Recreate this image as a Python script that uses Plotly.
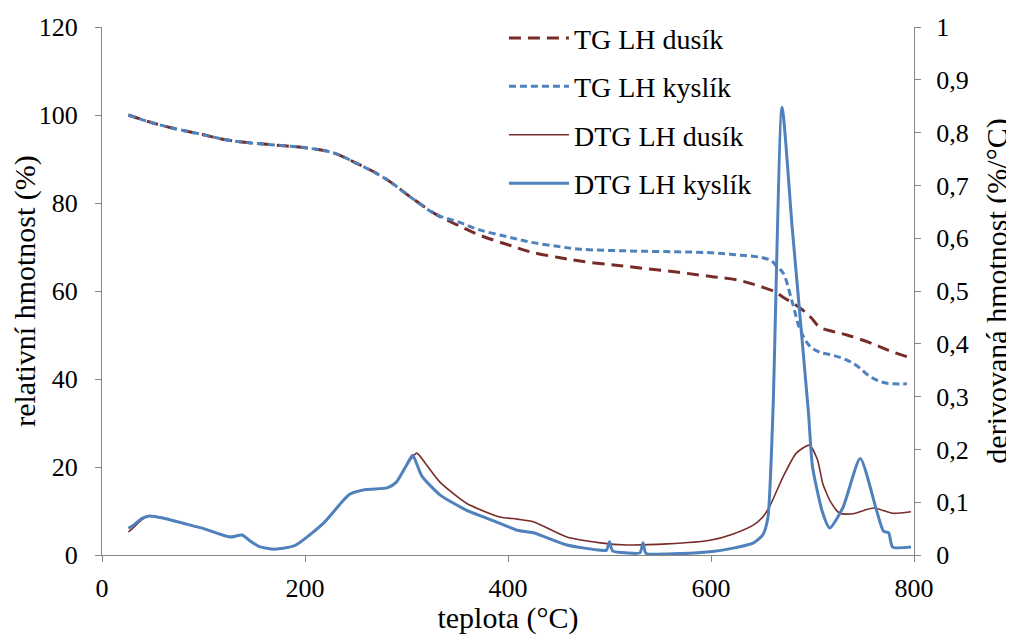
import plotly.graph_objects as go

# TG curves (left axis, %)
tg_dusik_t = [26, 47, 70, 100, 119, 140, 159, 180, 202, 228, 251, 270, 284, 306, 330, 350,
              372, 400, 422, 450, 471, 500, 520, 566, 600, 626, 645, 663, 671, 688, 698,
              707, 720, 734, 757, 775, 797]
tg_dusik = [100, 98.4, 97.0, 95.5, 94.5, 93.8, 93.4, 93.0, 92.5, 91.4, 89.0, 86.8, 84.8,
            81.0, 77.3, 75.0, 72.7, 70.5, 68.9, 67.6, 66.8, 66.0, 65.5, 64.3, 63.3, 62.5,
            61.3, 59.8, 58.6, 56.1, 54.1, 51.8, 50.8, 50.0, 48.2, 46.5, 44.8]

tg_kyslik_t = [26, 47, 70, 100, 119, 140, 159, 180, 202, 228, 251, 270, 284, 306, 330, 350,
               372, 400, 422, 450, 471, 520, 566, 600, 626, 650, 660, 665, 671, 680, 688,
               698, 707, 720, 734, 745, 757, 770, 780, 793]
tg_kyslik = [100, 98.4, 97.0, 95.5, 94.5, 93.8, 93.4, 93.0, 92.5, 91.4, 89.0, 86.8, 84.8,
             81.0, 77.3, 75.8, 73.9, 72.3, 71.1, 70.1, 69.5, 69.1, 68.9, 68.7, 68.2, 67.6,
             66.8, 65.5, 64.1, 57.5, 51.1, 47.3, 46.1, 45.4, 44.3, 42.8, 40.5, 39.2, 38.9, 38.9]

# DTG curves (right axis, %/°C)
dtg_dusik_t = [26, 30, 40, 47, 60, 80, 100, 126, 138, 145, 155, 170, 190, 218, 244, 260,
               281, 290, 300, 310, 320, 333, 359, 392, 409, 425, 458, 491, 517, 557, 599,
               622, 642, 651, 658, 671, 684, 697, 705, 710, 718, 727, 740, 760, 779, 797]
dtg_dusik = [0.044, 0.05, 0.068, 0.074, 0.07, 0.06, 0.05, 0.035, 0.038, 0.028, 0.016,
             0.011, 0.018, 0.06, 0.115, 0.124, 0.127, 0.138, 0.17, 0.193, 0.17, 0.138,
             0.098, 0.072, 0.068, 0.063, 0.034, 0.023, 0.019, 0.021, 0.028, 0.04, 0.057,
             0.072, 0.093, 0.148, 0.193, 0.208, 0.18, 0.136, 0.1, 0.079, 0.078, 0.089,
             0.079, 0.082]

dtg_kyslik_t = [26, 30, 40, 47, 60, 80, 100, 126, 138, 145, 155, 170, 190, 218, 244, 260,
                281, 290, 300, 306, 315, 333, 359, 392, 409, 425, 458, 491, 497, 500, 503,
                517, 530, 533, 536, 557, 599, 622, 642, 651, 656, 661, 670, 680, 696, 700,
                710, 717, 730, 747, 763, 770, 775, 779, 797]
dtg_kyslik = [0.051, 0.055, 0.07, 0.074, 0.07, 0.06, 0.05, 0.034, 0.038, 0.028, 0.016,
              0.011, 0.018, 0.06, 0.115, 0.124, 0.127, 0.138, 0.17, 0.189, 0.15, 0.114,
              0.085, 0.06, 0.047, 0.042, 0.019, 0.009, 0.009, 0.025, 0.008, 0.004, 0.004,
              0.023, 0.003, 0.002, 0.006, 0.013, 0.023, 0.038, 0.07, 0.27, 0.848, 0.62,
              0.27, 0.167, 0.08, 0.051, 0.09, 0.183, 0.085, 0.045, 0.042, 0.015, 0.015]

RED = '#772C2A'
BLUE = '#4F81BD'
FONT = 'Liberation Serif'

fig = go.Figure()

fig.add_trace(go.Scatter(x=tg_dusik_t, y=tg_dusik, mode='lines', name='TG LH dusík',
                         legendgroup='a', line=dict(color=RED, width=3, dash='12px,7px', shape='spline')))
fig.add_trace(go.Scatter(x=tg_kyslik_t, y=tg_kyslik, mode='lines', name='TG LH kyslík',
                         legendgroup='b', line=dict(color=BLUE, width=3, dash='7px,4px', shape='spline')))
fig.add_trace(go.Scatter(x=dtg_dusik_t, y=dtg_dusik, mode='lines', name='DTG LH dusík',
                         legendgroup='c', yaxis='y2', line=dict(color=RED, width=1.6, shape='spline', smoothing=0.6)))
fig.add_trace(go.Scatter(x=dtg_kyslik_t, y=dtg_kyslik, mode='lines', name='DTG LH kyslík',
                         legendgroup='d', yaxis='y2', line=dict(color=BLUE, width=3, shape='spline', smoothing=0.6)))

axis_style = dict(showgrid=False, zeroline=False, showline=True, linecolor='#868686',
                  linewidth=1, ticks='outside', tickcolor='#868686', ticklen=6, automargin=False,
                  tickfont=dict(family=FONT, size=26, color='black'))
title_font = dict(family=FONT, size=30, color='black')

# page body has an 8px margin, so the figure is 8px smaller than the window
fig.update_layout(
    width=1006, height=627,
    margin=dict(l=94, r=100, t=19, b=80, autoexpand=False),
    paper_bgcolor='white', plot_bgcolor='white',
    separators=', ',
    font=dict(family=FONT, size=26, color='black'),
    showlegend=True,
    legend=dict(x=0.495, y=1.026, xanchor='left', yanchor='top', traceorder='grouped',
                tracegroupgap=9, itemwidth=60, bgcolor='rgba(0,0,0,0)',
                font=dict(family=FONT, size=28)),
    xaxis=dict(range=[0, 800], dtick=200, ticklabelstandoff=4,
               title=dict(text='teplota (°C)', standoff=5, font=title_font), **axis_style),
    yaxis=dict(range=[0, 120], dtick=20, ticklabelstandoff=12,
               title=dict(text='relativní hmotnost (%)', standoff=13, font=title_font), **axis_style),
    yaxis2=dict(range=[0, 1], dtick=0.1, overlaying='y', side='right', ticklabelstandoff=10,
                title=dict(text='derivovaná hmotnost (%/°C)', standoff=20, font=title_font), **axis_style),
)

fig.write_html('out.html')
